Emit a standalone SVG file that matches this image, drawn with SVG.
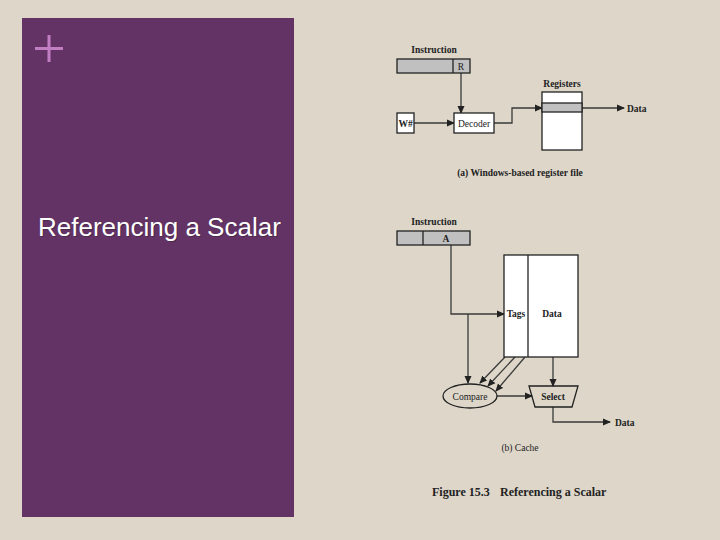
<svg xmlns="http://www.w3.org/2000/svg" width="720" height="540" viewBox="0 0 720 540">
<style>
.t{font-family:"Liberation Serif","Times New Roman",serif;font-weight:bold;font-size:9.5px;fill:#222}
.c{font-family:"Liberation Serif","Times New Roman",serif;font-size:9.5px;fill:#222}
.box{stroke:#222;stroke-width:1.3}
.gray{fill:#bfc0bf}
.white{fill:#fff}
.ln{fill:none;stroke:#3a3a3a;stroke-width:1.3}
</style>
<defs>
<marker id="ah" markerWidth="8" markerHeight="8" refX="7" refY="4" orient="auto" markerUnits="userSpaceOnUse">
<path d="M0,0.5 L8,4 L0,7.5 Z" fill="#222"/>
</marker>
</defs>
<rect width="720" height="540" fill="#ddd6c9"/>
<g id="panel">
<rect x="22" y="18" width="272" height="499" fill="#643366"/>
<path d="M49,35 V62 M35,48.5 H63" stroke="#c17ec3" stroke-width="3"/>
<text x="39" y="237" font-family="Liberation Sans,Arial,sans-serif" font-size="26" fill="#4a2a4a">Referencing a Scalar</text>
<text x="38" y="236" font-family="Liberation Sans,Arial,sans-serif" font-size="26" fill="#ffffff">Referencing a Scalar</text>
</g>
<g id="connectors">
<path class="ln" d="M461,73 V113" marker-end="url(#ah)"/>
<path class="ln" d="M414,123 H454" marker-end="url(#ah)"/>
<path class="ln" d="M494,123 H512 V108 H542" marker-end="url(#ah)"/>
<path class="ln" d="M582,108 H624" marker-end="url(#ah)"/>
<path class="ln" d="M451,245 V314 H504" marker-end="url(#ah)"/>
<path class="ln" d="M468,314 V383" marker-end="url(#ah)"/>
<path class="ln" d="M505,357 L480,383" marker-end="url(#ah)"/>
<path class="ln" d="M515,357 L488,386" marker-end="url(#ah)"/>
<path class="ln" d="M525,357 L496,391" marker-end="url(#ah)"/>
<path class="ln" d="M497,396 H532" marker-end="url(#ah)"/>
<path class="ln" d="M553,357 V386" marker-end="url(#ah)"/>
<path class="ln" d="M553,407 V422 H610" marker-end="url(#ah)"/>
</g>
<g id="instr-a">
<text class="t" x="434" y="53" text-anchor="middle">Instruction</text>
<rect class="box gray" x="397" y="59" width="73" height="14"/>
<line class="box" x1="453" y1="59" x2="453" y2="73"/>
<text class="c" x="461" y="70" text-anchor="middle">R</text>
</g>
<g id="wnum">
<rect class="box white" x="397" y="113" width="17" height="20"/>
<text class="t" x="405.5" y="127" text-anchor="middle">W#</text>
</g>
<g id="decoder">
<rect class="box white" x="454" y="113" width="40" height="20"/>
<text class="c" x="474" y="127" text-anchor="middle">Decoder</text>
</g>
<g id="registers">
<text class="t" x="562" y="87" text-anchor="middle">Registers</text>
<rect class="box white" x="542" y="92" width="40" height="58"/>
<rect class="box gray" x="542" y="103" width="40" height="9"/>
</g>
<g id="data-a"><text class="t" x="627" y="112">Data</text></g>
<text class="t" x="520" y="176" text-anchor="middle">(a) Windows-based register file</text>
<g id="instr-b">
<text class="t" x="434" y="225" text-anchor="middle">Instruction</text>
<rect class="box gray" x="397" y="231" width="73" height="14"/>
<line class="box" x1="423" y1="231" x2="423" y2="245"/>
<text class="t" x="446" y="242" text-anchor="middle">A</text>
</g>
<g id="cache">
<rect class="box white" x="504" y="255" width="74" height="102"/>
<line class="box" x1="528" y1="255" x2="528" y2="357"/>
<text class="t" x="516" y="317" text-anchor="middle">Tags</text>
<text class="t" x="552" y="317" text-anchor="middle">Data</text>
</g>
<g id="compare">
<ellipse class="box" cx="470" cy="396" rx="27" ry="12" fill="none"/>
<text class="c" x="470" y="399.5" text-anchor="middle">Compare</text>
</g>
<g id="select">
<path class="box" d="M529,386 H578 L572,407 H535 Z" fill="none"/>
<text class="t" x="553" y="399.5" text-anchor="middle">Select</text>
</g>
<g id="data-b"><text class="t" x="615" y="426">Data</text></g>
<text class="c" x="520" y="451" text-anchor="middle">(b) Cache</text>
<text y="496" font-family="Liberation Serif,Times New Roman,serif" font-weight="bold" font-size="12" fill="#222"><tspan x="432">Figure 15.3</tspan><tspan x="500">Referencing a Scalar</tspan></text>
</svg>
